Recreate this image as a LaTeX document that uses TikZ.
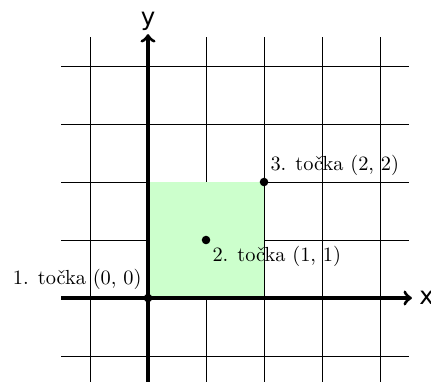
\documentclass[tikz,border=0pt]{standalone}
\usepackage{fontspec}
\setsansfont{DejaVu Sans}
\begin{document}
\begin{tikzpicture}[
  gridline/.style={line width=0.45pt},
  axis/.style={line width=1.6pt,->},
  dot/.style={circle,fill=black,inner sep=0pt,minimum size=4.2pt},
  axlabel/.style={font=\sffamily\large,inner sep=1.5pt},
  ptlabel/.style={inner sep=3pt}
]
\useasboundingbox (-2.552,-1.431) rectangle (4.879,5.138);
\draw[gridline] (-1.5,-1.5) grid (4.5,4.5);
\fill[green!20] (0,0) rectangle (2,2);
\node[dot] (p0) at (0,0) {};
\node[dot] (p1) at (1,1) {};
\node[dot] (p2) at (2,2) {};
\coordinate (xs) at (-1.5,0);
\coordinate (xe) at (4.55,0);
\coordinate (ys) at (0,-1.5);
\coordinate (ye) at (0,4.55);
\draw[axis] (xs) -- (xe);
\draw[axis] (ys) -- (ye);
\node[axlabel,anchor=west] (xl) at ([xshift=2pt]xe) {x};
\node[axlabel,anchor=south] (yl) at (ye) {y};
\node[ptlabel,anchor=south east] (l0) at ([yshift=1pt]p0) {1. točka (0, 0)};
\node[ptlabel,anchor=north west] (l1) at (p1) {2. točka (1, 1)};
\node[ptlabel,anchor=south west] (l2) at (p2) {3. točka (2, 2)};
\end{tikzpicture}
\end{document}
